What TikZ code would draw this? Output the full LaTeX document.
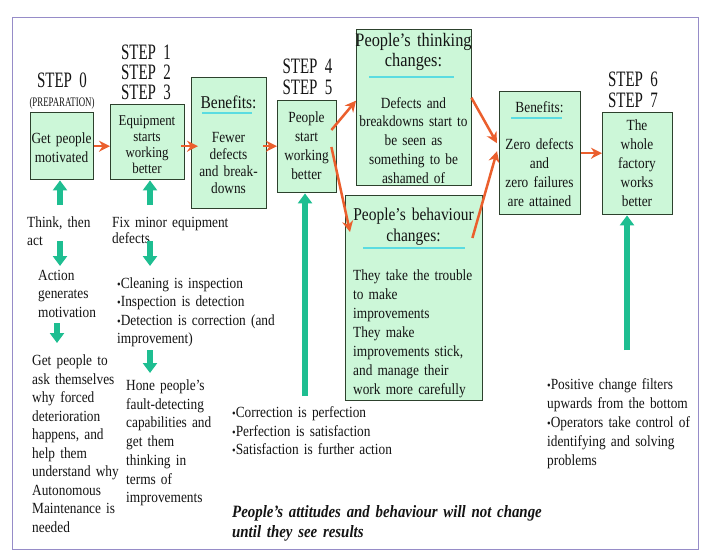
\documentclass[tikz,border=0pt]{standalone}
\usepackage{fontspec}
\setmainfont{Liberation Serif}[FakeStretch=0.86]
\newfontfamily\stepfont{Liberation Serif}[FakeStretch=0.68]
\usetikzlibrary{arrows.meta}
\definecolor{boxfill}{RGB}{204,247,216}
\definecolor{boxline}{RGB}{45,65,45}
\definecolor{orarrow}{RGB}{235,95,45}
\definecolor{grarrow}{RGB}{30,190,145}
\definecolor{cyanline}{RGB}{90,220,225}
\definecolor{framecol}{RGB}{150,140,200}
\definecolor{txtcol}{RGB}{20,20,20}
\newcommand\fs[2]{\fontsize{#1}{#2}\selectfont}
\newcommand\bul{{\fontsize{12}{12}\selectfont •}}
\begin{document}
\begin{tikzpicture}[x=1pt,y=-1pt,
  boxnode/.style={draw=boxline,fill=boxfill,line width=1.4pt,inner sep=0pt,anchor=north west},
  ctxt/.style={inner sep=0pt,text=txtcol,align=center,text width=150pt,anchor=base},
  ltxt/.style={inner sep=0pt,text=txtcol,align=left,text width=420pt,anchor=base west},
  steplbl/.style={inner sep=0pt,text=txtcol,align=center,text width=90pt,anchor=base},
  oarrow/.style={draw=orarrow,line width=2.5pt,-{Stealth[length=11pt,width=11pt]}},
  garrow/.style={draw=grarrow,line width=5.5pt,-{Triangle[length=10pt,width=14pt]}},
  uline/.style={draw=cyanline,line width=2pt},
]
\useasboundingbox (0,0) rectangle (704,552);
\fill[white] (0,0) rectangle (704,552);
\draw[framecol,line width=1pt] (12,17) rectangle (698,549);

% STEP labels
\node[steplbl,font=\stepfont\fs{22}{20}] (s0) at (62,87) {STEP 0};
\node[steplbl,font=\stepfont\fs{13}{13}] (prep) at (62,106) {(PREPARATION)};
\node[steplbl,font=\stepfont\fs{22}{20}] (s123) at (146,59) {STEP 1\\STEP 2\\STEP 3};
\node[steplbl,font=\stepfont\fs{22}{21}] (s45) at (307.5,73) {STEP 4\\STEP 5};
\node[steplbl,font=\stepfont\fs{22}{21}] (s67) at (633,86) {STEP 6\\STEP 7};

% boxes
\node[boxnode,minimum width=63pt,minimum height=67pt] (b0) at (30,112) {};
\node[boxnode,minimum width=74pt,minimum height=75pt] (b1) at (110,104) {};
\node[boxnode,minimum width=75pt,minimum height=131pt] (b2) at (191,77) {};
\node[boxnode,minimum width=59pt,minimum height=92pt] (b3) at (277,100) {};
\node[boxnode,minimum width=115pt,minimum height=156pt] (b4) at (356,29) {};
\node[boxnode,minimum width=137pt,minimum height=205pt] (b5) at (345,195) {};
\node[boxnode,minimum width=81pt,minimum height=123pt] (b6) at (499,91) {};
\node[boxnode,minimum width=70pt,minimum height=102pt] (b7) at (602,112) {};

% box texts
\node[ctxt,font=\fs{15.5}{19}] (t0) at (61.5,143) {Get people\\motivated};
\node[ctxt,font=\fs{15}{16}] (t1) at (147,125) {Equipment\\starts\\working\\better};
\node[ctxt,font=\fs{18}{18}] (t2h) at (228.5,108.5) {Benefits:};
\node[ctxt,font=\fs{15.5}{17}] (t2) at (228.5,142) {Fewer\\defects\\and break-\\downs};
\node[ctxt,font=\fs{15.5}{19}] (t3) at (306.5,122.5) {People\\start\\working\\better};
\node[ctxt,font=\fs{19}{20}] (t4h) at (413.5,46) {People’s thinking\\changes:};
\node[ctxt,font=\fs{15.5}{18.75}] (t4) at (413.5,108) {Defects and\\breakdowns start to\\be seen as\\something to be\\ashamed of};
\node[ctxt,font=\fs{18}{21.5}] (t5h) at (413.5,220) {People’s behaviour\\changes:};
\node[ltxt,font=\fs{15.5}{19}] (t5) at (353,280) {They take the trouble\\to make\\improvements\\They make\\improvements stick,\\and manage their\\work more carefully};
\node[ctxt,font=\fs{15.5}{19}] (t6h) at (539.5,112) {Benefits:};
\node[ctxt,font=\fs{15.5}{19}] (t6) at (539.5,149) {Zero defects\\and\\zero failures\\are attained};
\node[ctxt,font=\fs{15.5}{19}] (t7) at (637,130) {The\\whole\\factory\\works\\better};

% underlines
\draw[uline] (202,113) -- (252,113);
\draw[uline] (369,77) -- (454,77);
\draw[uline] (363,248) -- (465,248);
\draw[uline] (511,118) -- (562,118);

% free texts
\node[ltxt,font=\fs{15.5}{18}] (think) at (27,227) {Think, then\\act};
\node[ltxt,font=\fs{15.5}{16}] (fix) at (112,227) {Fix minor equipment\\defects};
\node[ltxt,font=\fs{15.5}{18.5}] (action) at (38,280) {Action\\generates\\motivation};
\node[ltxt,font=\fs{15.5}{18.5}] (getp) at (32,365.5) {Get people to\\ask themselves\\why forced\\deterioration\\happens, and\\help them\\understand why\\Autonomous\\Maintenance is\\needed};
\node[ltxt,font=\fs{15.5}{18.3}] (clean) at (117,288.5) {\bul Cleaning is inspection\\\bul Inspection is detection\\\bul Detection is correction (and\\improvement)};
\node[ltxt,font=\fs{15.5}{18.7}] (hone) at (126,390.5) {Hone people’s\\fault-detecting\\capabilities and\\get them\\thinking in\\terms of\\improvements};
\node[ltxt,font=\fs{15.5}{18.5}] (corr) at (232,417.5) {\bul Correction is perfection\\\bul Perfection is satisfaction\\\bul Satisfaction is further action};
\node[ltxt,font=\fs{15.5}{19}] (posit) at (547,389) {\bul Positive change filters\\upwards from the bottom\\\bul Operators take control of\\\makebox[141pt][s]{identifying and solving}\\problems};
\node[ltxt,font=\bfseries\itshape\fs{17.3}{20}] (concl) at (232,517) {People’s attitudes and behaviour will not change\\until they see results};

% orange arrows
\draw[oarrow] (b0.east) -- (b0.east -| b1.west);
\draw[oarrow] ([xshift=-4pt]b1.east |- b0.east) -- ([xshift=7pt]b2.west |- b0.east);
\draw[oarrow] ([xshift=-4pt]b2.east |- b0.east) -- (b3.west |- b0.east);
\draw[oarrow] ([shift={(-6,30)}]b3.north east) -- ([shift={(0,-7)}]b4.west);
\draw[oarrow] ([shift={(-6,47)}]b3.north east) -- ([shift={(5,37)}]b5.north west);
\draw[oarrow] ([shift={(-1,-10)}]b4.east) -- ([shift={(-2,-10)}]b6.west);
\draw[oarrow] ([shift={(-11,43)}]b5.north east) -- ([shift={(-2,-2)}]b6.west);
\draw[oarrow] (b6.east) -- (b6.east -| b7.west);

% green arrows
\coordinate (g0t) at (60,205);
\coordinate (g1t) at (150,205);
\coordinate (g6t) at (305,396);
\coordinate (g7t) at (627,350);
\coordinate (g2t) at (60,241);  \coordinate (g2h) at (60,266);
\coordinate (g3t) at (150,241); \coordinate (g3h) at (150,266);
\coordinate (g4t) at (57,323);  \coordinate (g4h) at (57,343);
\coordinate (g5t) at (150,350); \coordinate (g5h) at (150,373);
\draw[garrow] (g0t) -- (g0t |- b0.south);
\draw[garrow] (g1t) -- (g1t |- b1.south);
\draw[garrow] (g6t) -- (g6t |- b3.south);
\draw[garrow] (g7t) -- (g7t |- b7.south);
\draw[garrow] (g2t) -- (g2h);
\draw[garrow] (g3t) -- (g3h);
\draw[garrow] (g4t) -- (g4h);
\draw[garrow] (g5t) -- (g5h);
\end{tikzpicture}
\end{document}
